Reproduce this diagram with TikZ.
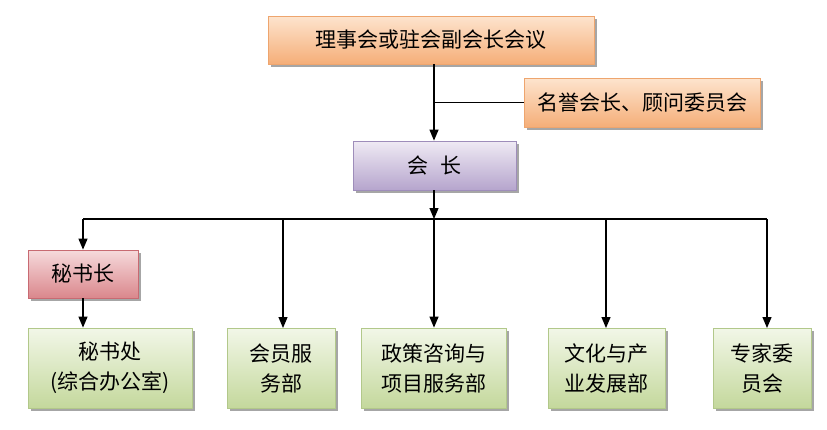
\documentclass[tikz,border=0pt]{standalone}
\usepackage{fontspec}
\newfontfamily\cjk{Noto Sans CJK SC}
\usetikzlibrary{arrows.meta,shadows}
\definecolor{orline}{HTML}{EEA56E}
\definecolor{orlight}{HTML}{FDE4CE}
\definecolor{ordark}{HTML}{F5AE78}
\definecolor{puline}{HTML}{9E8DBA}
\definecolor{pulight}{HTML}{EFEAF4}
\definecolor{pudark}{HTML}{B6A5CD}
\definecolor{reline}{HTML}{C86A72}
\definecolor{relight}{HTML}{F6DADC}
\definecolor{redark}{HTML}{DA878C}
\definecolor{grline}{HTML}{B2C88A}
\definecolor{grlight}{HTML}{F2F7E8}
\definecolor{grdark}{HTML}{C4D89C}
\tikzset{
  box/.style={draw, line width=0.8pt, inner sep=2pt, align=center,
    font=\cjk\fontsize{21}{30}\selectfont,
    drop shadow={shadow xshift=3pt, shadow yshift=-3pt, fill=black!35, opacity=1}},
  orbox/.style={box, draw=orline, top color=orlight, bottom color=ordark},
  pubox/.style={box, draw=puline, top color=pulight, bottom color=pudark},
  rebox/.style={box, draw=reline, top color=relight, bottom color=redark},
  grbox/.style={box, draw=grline, top color=grlight, bottom color=grdark,
    minimum height=80pt},
  conn/.style={line width=1.2pt, black},
  arr/.style={conn, -{Triangle[width=9pt,length=11pt]}}
}
\begin{document}
\begin{tikzpicture}[x=1pt,y=-1pt]
\useasboundingbox (0,0) rectangle (827,429);
\node[orbox, minimum width=326pt, minimum height=48pt] (top) at (431,40) {理事会或驻会副会长会议};
\node[orbox, minimum width=236pt, minimum height=49pt] (side) at (642,102.5) {名誉会长、顾问委员会};
\node[pubox, minimum width=163pt, minimum height=49pt] (hz) at (434.5,165.5) {会\hspace{12pt}长};
\node[rebox, minimum width=110pt, minimum height=48pt] (msz) at (83,274) {秘书长};
\node[grbox, minimum width=164pt] (msc) at (110,368) {秘书处\\(综合办公室)};
\node[grbox, minimum width=108pt] (hy) at (281,368) {会员服\\务部};
\node[grbox, minimum width=145pt] (zc) at (433.5,368) {政策咨询与\\项目服务部};
\node[grbox, minimum width=117pt] (wh) at (606.5,368) {文化与产\\业发展部};
\node[grbox, minimum width=98pt] (zj) at (762,368) {专家委\\员会};
\coordinate (t1) at (434,64);
\coordinate (j1) at (434,102.5);
\coordinate (b0) at (434,219);
\coordinate (bl) at (83,219);
\coordinate (br) at (767,219);
\draw[arr] (t1) -- (hz.north -| t1);
\draw[conn] (j1) -- (side.west);
\draw[arr] (hz.south -| b0) -- (b0);
\draw[conn] (bl) -- (br);
\draw[arr] (bl) -- (msz.north);
\draw[arr] (msz.south) -- (msz.south |- msc.north);
\draw[arr] (283,219) -- (283,328);
\draw[arr] (b0) -- (zc.north -| b0);
\draw[arr] (606,219) -- (606,328);
\draw[arr] (br) -- (767,328);
\end{tikzpicture}
\end{document}
